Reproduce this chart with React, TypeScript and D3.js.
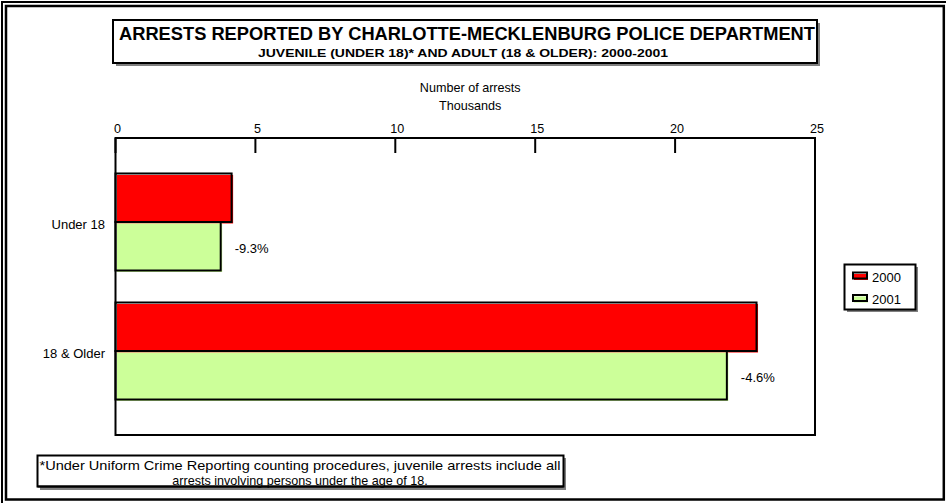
import React from "react";
import * as d3 from "d3";

const categories = ["Under 18", "18 & Older"];
const seriesNames = ["2000", "2001"];
const values2000 = [4.15, 22.91];
const values2001 = [3.76, 21.85];
const changeLabels = ["-9.3%", "-4.6%"];
const xTicks = [0, 5, 10, 15, 20, 25];
const colors = ["#FF0000", "#CCFF99"];
const footLine1 = "*Under Uniform Crime Reporting counting procedures, juvenile arrests include all";
const footLine2 = "arrests involving persons under the age of 18.";

const W = 946;
const H = 503;
const FONT = "Arial, 'Liberation Sans', sans-serif";

export default function App() {
  const left = 115.5, right = 815, top = 138, bottom = 435;
  const x = d3.scaleLinear().domain([0, 25]).range([left, right]);
  const y = d3.scaleBand<string>().domain(categories).range([top, bottom]).paddingInner(0.248).paddingOuter(0.275);
  const ys = d3.scaleBand<string>().domain(seriesNames).range([0, y.bandwidth()]);
  const series = [values2000, values2001];

  return (
    <svg width={W} height={H} style={{ position: "absolute", left: 0, top: 0, background: "#fff" }} fontFamily={FONT}>
      <rect x={0} y={0} width={W} height={H} fill="#fff" />
      {/* outer double frame */}
      <rect x={2} y={2} width={W + 10} height={H + 10} fill="none" stroke="#000" strokeWidth={2} />
      <rect x={6} y={6} width={937.8} height={493.5} fill="none" stroke="#000" strokeWidth={2.5} />

      {/* title box */}
      <rect x={116} y={23} width={704} height={43} fill="#808080" />
      <rect x={113} y={20} width={704} height={43} fill="#fff" stroke="#000" strokeWidth={2} />
      <text x={467} y={39.5} textAnchor="middle" fontWeight="bold" fontSize={17.5}
        textLength={696} lengthAdjust="spacingAndGlyphs">
        ARRESTS REPORTED BY CHARLOTTE-MECKLENBURG POLICE DEPARTMENT
      </text>
      <text x={463} y={57} textAnchor="middle" fontWeight="bold" fontSize={11.5}
        textLength={410} lengthAdjust="spacingAndGlyphs">
        JUVENILE (UNDER 18)* AND ADULT (18 &amp; OLDER): 2000-2001
      </text>

      {/* axis title */}
      <text x={(left + right) / 2 + 5} y={92} textAnchor="middle" fontSize={12.6}>Number of arrests</text>
      <text x={(left + right) / 2 + 5} y={110} textAnchor="middle" fontSize={12.6}>Thousands</text>

      {/* bars */}
      {categories.map((c, i) => (
        <g key={c}>
          {seriesNames.map((s, j) => {
            const y0 = (y(c) as number) + (ys(s) as number);
            const h = ys.bandwidth();
            const w = x(series[j][i]) - x(0);
            return (
              <g key={s}>
                <rect x={x(0) + 1.5} y={y0 + 1.5} width={w} height={h} fill={colors[j]} />
                <rect x={x(0)} y={y0} width={w} height={h} fill="none" stroke="#000" strokeWidth={2} />
              </g>
            );
          })}
          <text x={105} y={(y(c) as number) + y.bandwidth() / 2 + 7} textAnchor="end" fontSize={13}>{c}</text>
          <text
            x={x(values2001[i]) + 14}
            y={(y(c) as number) + (ys("2001") as number) + ys.bandwidth() / 2 + 7}
            fontSize={13}
          >
            {changeLabels[i]}
          </text>
        </g>
      ))}

      {/* plot frame */}
      <rect x={left} y={top} width={right - left} height={bottom - top} fill="none" stroke="#000" strokeWidth={2} />
      {xTicks.map((t) => (
        <g key={t}>
          <line x1={x(t)} x2={x(t)} y1={top} y2={top + 15} stroke="#000" strokeWidth={2} />
          <text x={x(t) + 2} y={133} textAnchor="middle" fontSize={12.6}>{t}</text>
        </g>
      ))}

      {/* legend */}
      <rect x={847} y={267} width={71} height={45} fill="#808080" />
      <rect x={844.5} y={264.5} width={71} height={45} fill="#fff" stroke="#000" strokeWidth={2} />
      {seriesNames.map((s, j) => {
        const ly = 276 + j * 22.5;
        return (
          <g key={s}>
            <rect x={854} y={ly - 2} width={14} height={6} fill={colors[j]} />
            <rect x={853} y={ly - 3.5} width={14} height={6} fill="none" stroke="#000" strokeWidth={2} />
            <text x={872} y={ly + 5.5} fontSize={13}>{s}</text>
          </g>
        );
      })}

      {/* footnote */}
      <rect x={40} y={458} width={526} height={32} fill="#808080" />
      <rect x={37.5} y={455.5} width={526} height={31} fill="#fff" stroke="#000" strokeWidth={2} />
      <text x={39.5} y={470} fontSize={13} textLength={521} lengthAdjust="spacingAndGlyphs">
        {footLine1}
      </text>
      <text x={300} y={485} textAnchor="middle" fontSize={12.6}>
        {footLine2}
      </text>
      <line x1={37.5} x2={563.5} y1={486.5} y2={486.5} stroke="#000" strokeWidth={2} />
    </svg>
  );
}
